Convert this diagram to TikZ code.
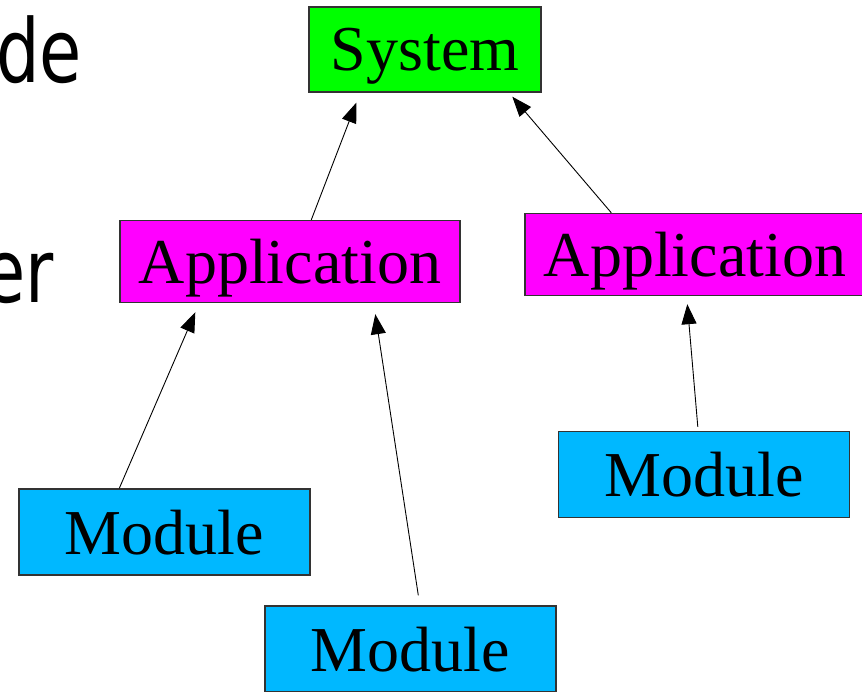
\documentclass[tikz,border=0pt]{standalone}
\usepackage{fontspec}
\setmainfont{Liberation Serif}
\newfontfamily\slidefont{DejaVu Sans}
\usetikzlibrary{arrows.meta}
\definecolor{sysgreen}{RGB}{0,255,0}
\definecolor{appmagenta}{RGB}{255,0,255}
\definecolor{modblue}{RGB}{0,184,255}
\tikzset{%
  tipA/.tip={Triangle[length=20pt,width=15pt]},
  box/.style={draw=black!80, line width=1.4pt, rectangle, inner sep=0pt,
    text depth=0pt, font=\fontsize{64}{72}\selectfont},
  sysbox/.style={box, fill=sysgreen, minimum width=232pt, minimum height=85pt},
  appbox/.style={box, fill=appmagenta, minimum width=340pt, minimum height=82pt},
  modbox/.style={box, fill=modblue, minimum width=291pt, minimum height=86pt},
  slidetext/.style={anchor=base east, inner sep=0pt, xscale=0.78,
    font=\slidefont\fontsize{88}{96}\selectfont},
  link/.style={black, line width=0.9pt, -tipA}
}

\begin{document}
\begin{tikzpicture}[x=1pt,y=-1pt]
\clip (0,0) rectangle (862,692);
\node[slidetext] (de) at (82,83) {de};
\node[slidetext] (er) at (54,303) {er};
\node[sysbox] (sys) at (425,49.5) {System};
\node[appbox] (app1) at (290,261.5) {Application};
\node[appbox] (app2) at (695,254.5) {Application};
\node[modbox] (mod1) at (164.5,532) {Module};
\node[modbox] (mod2) at (410.5,649) {Module};
\node[modbox] (mod3) at (704,474.5) {Module};
%\draw[link] (app1) -- (sys);
\draw[link] ([xshift=192pt]app1.north west) -- ([xshift=48pt,yshift=-10pt]sys.south west);
\draw[link] ([xshift=87pt]app2.north west) -- ([xshift=204pt,yshift=-4pt]sys.south west);
\draw[link] ([xshift=101pt]mod1.north west) -- ([xshift=76pt,yshift=-9pt]app1.south west);
\draw[link] ([xshift=154pt,yshift=10pt]mod2.north west) -- ([xshift=256pt,yshift=-11pt]app1.south west);
\draw[link] ([xshift=140pt,yshift=4pt]mod3.north west) -- ([xshift=163pt,yshift=-8pt]app2.south west);
\end{tikzpicture}
\end{document}
